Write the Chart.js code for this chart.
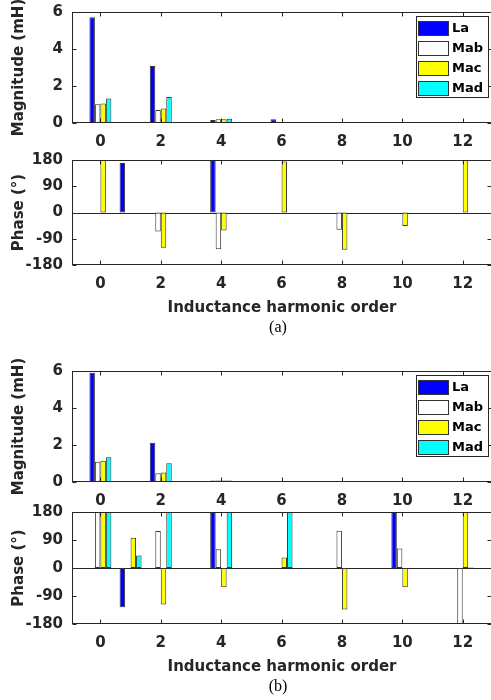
<!DOCTYPE html>
<html>
<head>
<meta charset="utf-8">
<script src="https://cdn.jsdelivr.net/npm/chart.js@4"></script>
<style>
  html, body { margin: 0; padding: 0; background: #fff; }
  body { width: 491px; height: 700px; overflow: hidden; position: relative; }
  canvas { position: absolute; left: 0; }
  .cap { position: absolute; width: 60px; text-align: center; line-height: 20px;
         font: 16px "Liberation Serif", "Times New Roman", serif; color: #000; }
</style>
</head>
<body>
<canvas id="magA"></canvas>
<canvas id="phaseA"></canvas>
<div class="cap" style="left:248px; top:318px;">(a)</div>
<canvas id="magB"></canvas>
<canvas id="phaseB"></canvas>
<div class="cap" style="left:248px; top:677px;">(b)</div>
<script>
// harmonic orders (x) and tick labels
const harmonics = [0, 1, 2, 3, 4, 5, 6, 7, 8, 9, 10, 11, 12];
const xTicks = [0, 2, 4, 6, 8, 10, 12];
const magTicks = [0, 2, 4, 6];
const phaseTicks = [-180, -90, 0, 90, 180];
const seriesNames = ['La', 'Mab', 'Mac', 'Mad'];
const seriesColors = ['#0000ff', '#ffffff', '#ffff00', '#00ffff'];

// (a) magnitude, mH
const magA_La  = [5.71, 0, 3.08, 0, 0.16, 0, 0.20, 0, 0.05, 0, 0, 0, 0];
const magA_Mab = [1.01, 0, 0.70, 0, 0.20, 0, 0, 0, 0, 0, 0, 0, 0];
const magA_Mac = [1.06, 0, 0.79, 0, 0.20, 0, 0.05, 0, 0, 0, 0, 0, 0];
const magA_Mad = [1.33, 0, 1.41, 0, 0.23, 0, 0, 0, 0, 0, 0, 0, 0];
// (a) phase, degrees
const phA_La  = [0, 170, 0, 0, 180, 0, 0, 0, 0, 0, 0, 0, 0];
const phA_Mab = [0, 0, -65, 0, -126, 0, 0, 0, -59, 0, 0, 0, 0];
const phA_Mac = [180, 0, -121, 0, -62, 0, 175, 0, -128, 0, -46, 0, 180];
const phA_Mad = [0, 0, 0, 0, 0, 0, 0, 0, 0, 0, 0, 0, 0];

// (b) magnitude, mH
const magB_La  = [5.91, 0, 2.12, 0, 0.08, 0, 0, 0, 0, 0, 0, 0, 0];
const magB_Mab = [1.10, 0, 0.47, 0, 0.08, 0, 0, 0, 0, 0, 0, 0, 0];
const magB_Mac = [1.15, 0, 0.52, 0, 0.08, 0, 0, 0, 0, 0, 0, 0, 0];
const magB_Mad = [1.34, 0, 1.01, 0, 0.08, 0, 0, 0, 0, 0, 0, 0, 0];
// (b) phase, degrees
const phB_La  = [0, -126, 0, 0, 180, 0, 0, 0, 0, 0, 180, 0, 0];
const phB_Mab = [180, 0, 119, 0, 60, 0, 0, 0, 120, 0, 63, 0, -180];
const phB_Mac = [180, 97, -117, 0, -62, 0, 34, 0, -133, 0, -62, 0, 180];
const phB_Mad = [180, 40, 180, 0, 180, 0, 180, 0, 0, 0, 0, 0, 2];

const INK = '#262626';
const FONT = 'DejaVu Sans';
const PAD_TOP = 22;

// box around the axes with inward ticks, plus the bar baseline
const framePlugin = {
  id: 'frame',
  beforeDatasetsDraw(chart) {
    const {ctx, chartArea: a, scales: {y}} = chart;
    if (y.min < 0) {
      const py = Math.round(y.getPixelForValue(0)) + 0.5;
      ctx.save();
      ctx.strokeStyle = INK;
      ctx.lineWidth = 1;
      ctx.beginPath();
      ctx.moveTo(a.left, py);
      ctx.lineTo(a.right, py);
      ctx.stroke();
      ctx.restore();
    }
  },
  afterDraw(chart) {
    const {ctx, chartArea: a, scales: {x, y}} = chart;
    const l = Math.round(a.left) + 0.5, r = Math.round(a.right) - 0.5;
    const t = Math.round(a.top) + 0.5, b = Math.round(a.bottom) - 0.5;
    ctx.save();
    ctx.strokeStyle = INK;
    ctx.lineWidth = 1;
    ctx.strokeRect(l, t, r - l, b - t);
    ctx.beginPath();
    x.ticks.forEach(tk => {
      const px = Math.round(x.getPixelForValue(tk.value)) + 0.5;
      ctx.moveTo(px, t); ctx.lineTo(px, t + 4);
      ctx.moveTo(px, b); ctx.lineTo(px, b - 4);
    });
    y.ticks.forEach(tk => {
      const py = Math.round(y.getPixelForValue(tk.value)) + 0.5;
      ctx.moveTo(l, py); ctx.lineTo(l + 4, py);
      ctx.moveTo(r, py); ctx.lineTo(r - 4, py);
    });
    ctx.stroke();
    ctx.restore();
  }
};

// legend drawn inside the plot, top right
const legendPlugin = {
  id: 'boxLegend',
  afterDraw(chart, args, opts) {
    if (!opts.display) return;
    const {ctx, chartArea: a} = chart;
    const bx = Math.round(a.right) - 76, by = Math.round(a.top) + 4, bw = 73, bh = 82;
    ctx.save();
    ctx.fillStyle = '#fff';
    ctx.fillRect(bx, by, bw, bh);
    ctx.strokeStyle = INK;
    ctx.lineWidth = 1;
    ctx.strokeRect(bx + 0.5, by + 0.5, bw - 1, bh - 1);
    ctx.font = 'bold 13px "' + FONT + '"';
    ctx.textBaseline = 'middle';
    ctx.textAlign = 'left';
    chart.data.datasets.forEach((ds, i) => {
      const cy = by + 12 + i * 20;
      const sy = Math.round(cy - 7.5);
      ctx.fillStyle = ds.backgroundColor;
      ctx.fillRect(bx + 2, sy, 31, 15);
      ctx.strokeStyle = '#333';
      ctx.strokeRect(bx + 2.5, sy + 0.5, 30, 14);
      ctx.fillStyle = '#000';
      ctx.fillText(ds.label, bx + 36, cy + 1);
    });
    ctx.restore();
  }
};

function makeChart(id, areaTop, areaH, bottomSpace, series, yMin, yMax, yTicks, yTitle, xTitle, legend) {
  const cv = document.getElementById(id);
  cv.width = 500;
  cv.height = PAD_TOP + areaH + bottomSpace;
  cv.style.top = (areaTop - PAD_TOP) + 'px';
  const tickFont = {family: FONT, weight: 'bold', size: 15};
  return new Chart(cv, {
    type: 'bar',
    data: {
      labels: harmonics,
      datasets: series.map((d, i) => ({
        label: seriesNames[i],
        data: d,
        backgroundColor: seriesColors[i],
        borderColor: '#333',
        borderWidth: 1,
        borderSkipped: false,
        categoryPercentage: 0.727,
        barPercentage: 1
      }))
    },
    options: {
      responsive: false,
      animation: false,
      layout: {padding: {top: PAD_TOP, right: 8, left: 0, bottom: 0}},
      plugins: {
        legend: {display: false},
        tooltip: {enabled: false},
        boxLegend: {display: legend}
      },
      scales: {
        x: {
          type: 'linear',
          offset: false,
          min: -0.94,
          max: 12.97,
          grid: {display: false, drawTicks: false},
          border: {display: false},
          afterBuildTicks: s => { s.ticks = xTicks.map(v => ({value: v})); },
          afterFit: s => { s.height = bottomSpace; },
          ticks: {padding: 10, color: INK, font: tickFont, autoSkip: false, maxRotation: 0},
          title: {
            display: !!xTitle,
            text: xTitle || '',
            color: INK,
            font: {family: FONT, weight: 'bold', size: 15},
            padding: {top: 0, bottom: 3}
          }
        },
        y: {
          min: yMin,
          max: yMax,
          grid: {display: false, drawTicks: false},
          border: {display: false},
          afterBuildTicks: s => { s.ticks = yTicks.map(v => ({value: v})); },
          afterFit: s => { s.width = 72; },
          ticks: {padding: 9, color: INK, font: tickFont},
          title: {
            display: true,
            text: yTitle,
            color: INK,
            font: {family: FONT, weight: 'bold', size: 15},
            padding: {top: 10, bottom: 0}
          }
        }
      }
    },
    plugins: [framePlugin, legendPlugin]
  });
}

makeChart('magA', 12, 111, 28, [magA_La, magA_Mab, magA_Mac, magA_Mad], 0, 6, magTicks, 'Magnitude (mH)', null, true);
makeChart('phaseA', 160, 105, 55, [phA_La, phA_Mab, phA_Mac, phA_Mad], -180, 180, phaseTicks, 'Phase (°)', 'Inductance harmonic order', false);
makeChart('magB', 371, 111, 28, [magB_La, magB_Mab, magB_Mac, magB_Mad], 0, 6, magTicks, 'Magnitude (mH)', null, true);
makeChart('phaseB', 512, 112, 55, [phB_La, phB_Mab, phB_Mac, phB_Mad], -180, 180, phaseTicks, 'Phase (°)', 'Inductance harmonic order', false);
</script>
</body>
</html>
